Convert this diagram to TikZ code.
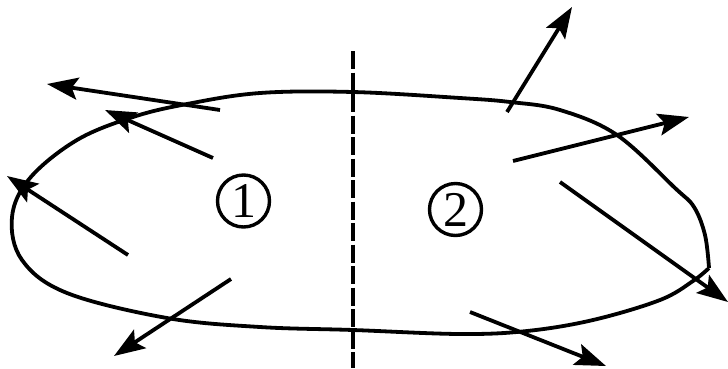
\documentclass[tikz,border=0pt]{standalone}
\usepackage{fontspec}
\setmainfont{Liberation Serif}
\usetikzlibrary{arrows.meta}
\begin{document}
\begin{tikzpicture}[x=1pt,y=-1pt,
  boundary/.style={line width=3.8pt,line join=round},
  vec/.style={line width=3.8pt,-{Stealth[length=31pt,width=22pt,inset=6pt]}},
  region/.style={circle,draw,line width=3.4pt,minimum size=52pt,inner sep=0pt,font=\fontsize{50}{50}\selectfont}]
\useasboundingbox (0,0) rectangle (728,368);
\draw[boundary] plot[smooth,tension=0.6] coordinates {
 (709,268) (705,235) (694,207) (675,188) (617,135) (560,110) (510,102)
 (460,98) (353,92) (260,93) (187,104) (133,117) (77,140) (30,178)
 (12,217) (22,260) (67,293) (167,318) (260,327) (353,330) (460,334)
 (527,331) (593,320) (660,300) (693,281) (709,268)};
\coordinate (dtop) at (353,51);
\coordinate (dbot) at (353,368);
\draw[line width=3.8pt,dash pattern=on 18pt off 3.5pt] (dtop) -- (dbot);
\node[region] (r1) at (243.5,201) {1};
\node[region] (r2) at (455.5,209.5) {2};
\coordinate (a1s) at (220,110); \coordinate (a1e) at (47,84);
\coordinate (a2s) at (213,158); \coordinate (a2e) at (105,110);
\coordinate (a3s) at (128,255); \coordinate (a3e) at (7,176);
\coordinate (a4s) at (231,279); \coordinate (a4e) at (114,356);
\coordinate (a5s) at (507,112); \coordinate (a5e) at (572,7);
\coordinate (a6s) at (513,161); \coordinate (a6e) at (689,117);
\coordinate (a7s) at (560,182); \coordinate (a7e) at (728,302);
\coordinate (a8s) at (470,312); \coordinate (a8e) at (606,366);
\foreach \i in {1,...,8} \draw[vec] (a\i s) -- (a\i e);
\end{tikzpicture}
\end{document}
